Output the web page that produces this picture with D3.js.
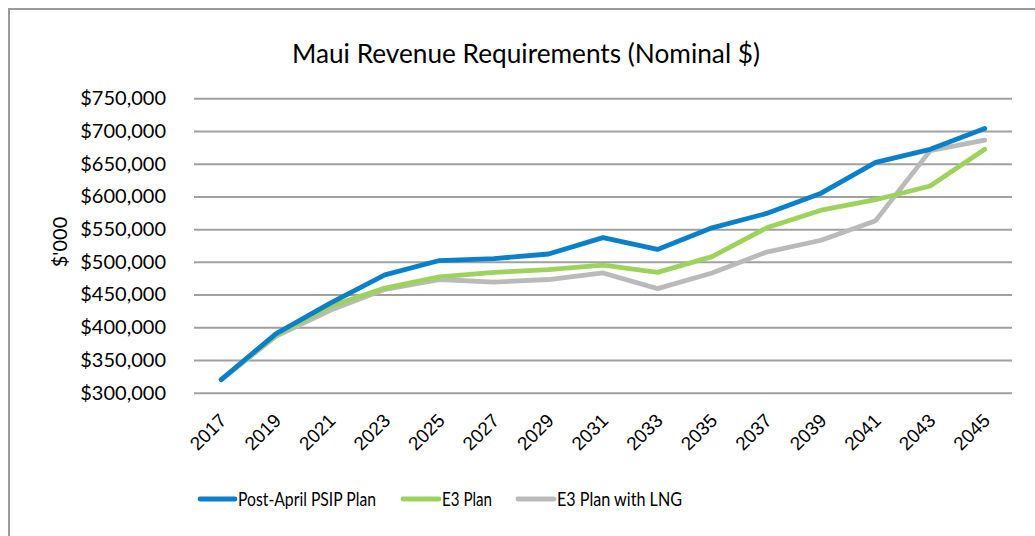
<!DOCTYPE html>
<html><head><meta charset="utf-8">
<script src="https://cdn.jsdelivr.net/npm/d3@7"></script>
<style>body{margin:0;background:#fff;}svg{display:block;font-family:Lato,"Open Sans",sans-serif;}</style>
</head><body>
<svg id="c" width="1035" height="536"></svg>
<script>
const years = ["2017","2019","2021","2023","2025","2027","2029","2031","2033","2035","2037","2039","2041","2043","2045"];
const psip = [320,390,437,480,502,505,512,537,519,552,574,605,652,672,704];
const e3 = [320,388,432,460,477,484,488,495,484,508,552,579,595,616,672];
const e3lng = [320,386,426,458,473,469,473,483,459,483,515,533,563,670,686];
const yTicks = [300,350,400,450,500,550,600,650,700,750];
const seriesNames = ["Post-April PSIP Plan","E3 Plan","E3 Plan with LNG"];
const colors = ["#0a7fca","#9dd35c","#bababa"];

const svg = d3.select("#c");
// frame
svg.append("line").attr("x1",8).attr("x2",1035).attr("y1",9).attr("y2",9).attr("stroke","#9a9a9a").attr("stroke-width",2);
svg.append("line").attr("x1",9).attr("x2",9).attr("y1",8).attr("y2",536).attr("stroke","#9a9a9a").attr("stroke-width",2);

const L=194,R=1012,T=98.3,B=392.7;
const x = d3.scalePoint().domain(years).range([L,R]).padding(0.5);
const y = d3.scaleLinear().domain([300,750]).range([B,T]);

svg.append("text").attr("x",526).attr("y",63).attr("text-anchor","middle").attr("font-size",27.5)
  .attr("textLength",468).attr("lengthAdjust","spacingAndGlyphs").attr("fill","#000").text("Maui Revenue Requirements (Nominal $)");

// grid
const yAxis = d3.axisLeft(y).tickValues(yTicks).tickSize(-(R-L)).tickPadding(28).tickFormat(d=>"$"+d3.format(",")(d*1000));
const gy = svg.append("g").attr("transform",`translate(${L},0)`).call(yAxis);
gy.select(".domain").remove();
gy.selectAll(".tick line").attr("stroke","#a0a0a0").attr("stroke-width",2);
gy.selectAll(".tick text").attr("font-size",20).attr("fill","#000").attr("font-family","Lato,sans-serif");

// x axis labels
const xAxis = d3.axisBottom(x).tickSize(0).tickPadding(0);
const gx = svg.append("g").attr("transform",`translate(0,${B})`).call(xAxis);
gx.select(".domain").remove();
gx.selectAll(".tick text").attr("font-size",19).attr("fill","#000").attr("text-anchor","end")
  .attr("dy",null).attr("y",0).attr("transform","translate(6,29) rotate(-45)");

// y title
svg.append("text").attr("transform","translate(67,242) rotate(-90)").attr("text-anchor","middle").attr("font-size",20).text("$'000");

const data=[psip,e3,e3lng];
const line = d3.line().x((d,i)=>x(years[i])).y(d=>y(d));
[2,1,0].forEach(k=>{
  svg.append("path").datum(data[k]).attr("d",line).attr("fill","none").attr("stroke",colors[k]).attr("stroke-width",4.8).attr("stroke-linejoin","round").attr("stroke-linecap","round");
});

// legend
const leg=[{x1:200,x2:235,tx:238,w:138},{x1:403,x2:439,tx:442,w:50},{x1:518,x2:554,tx:557,w:125}];
leg.forEach((p,i)=>{
  svg.append("line").attr("x1",p.x1).attr("x2",p.x2).attr("y1",499).attr("y2",499).attr("stroke",colors[i]).attr("stroke-width",4.8).attr("stroke-linecap","round");
  svg.append("text").attr("x",p.tx).attr("y",506).attr("font-size",18.5).attr("textLength",p.w).attr("lengthAdjust","spacingAndGlyphs").text(seriesNames[i]);
});
</script>
</body></html>
